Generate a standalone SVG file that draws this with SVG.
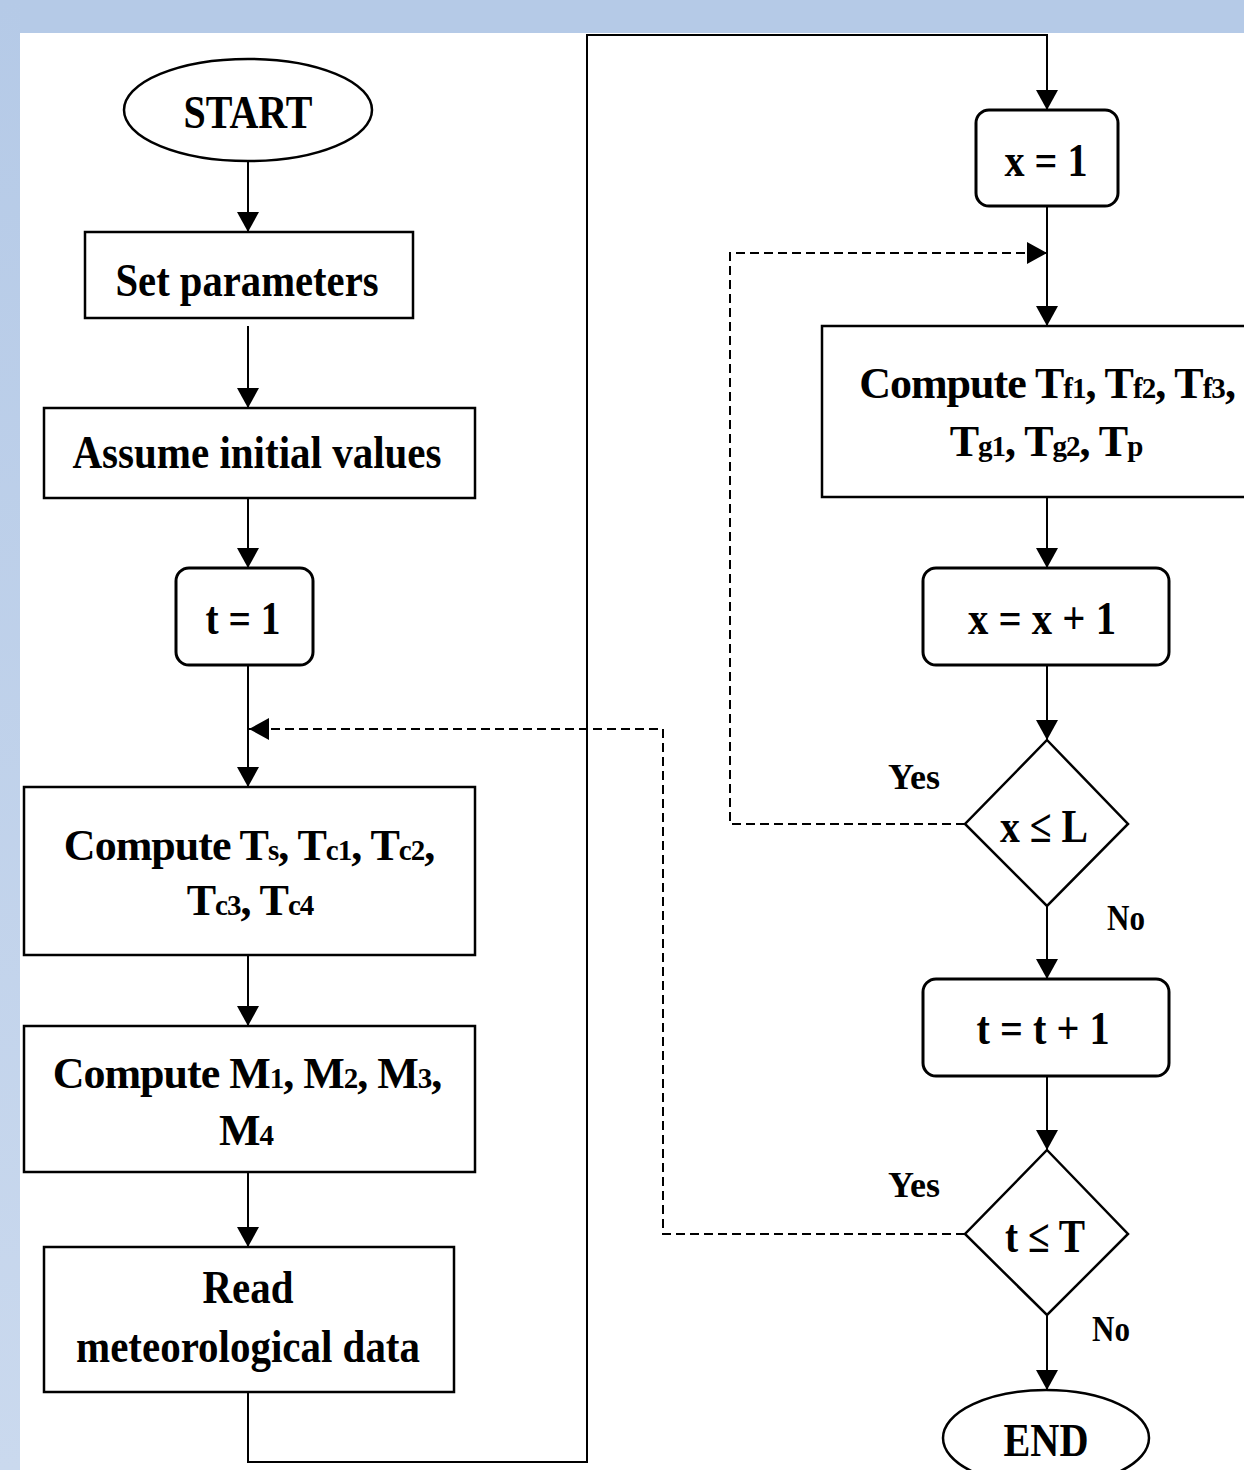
<svg xmlns="http://www.w3.org/2000/svg" width="1244" height="1470" viewBox="0 0 1244 1470">
<defs>
<linearGradient id="side" x1="0" y1="0" x2="0" y2="1">
<stop offset="0" stop-color="#B5CAE7"/>
<stop offset="1" stop-color="#CAD9EE"/>
</linearGradient>
<marker id="ah" viewBox="0 0 20 22" refX="20" refY="11" markerWidth="20" markerHeight="22" markerUnits="userSpaceOnUse" orient="auto">
<path d="M0,0 L20,11 L0,22 Z" fill="#000"/>
</marker>
</defs>
<style>
.box{fill:#fff;stroke:#000;stroke-width:2.5}
.rbox{fill:#fff;stroke:#000;stroke-width:3}
.t{font-family:"Liberation Serif","Times New Roman",serif;font-weight:bold;font-size:46px;fill:#000;text-anchor:middle}
.tc{font-family:"Liberation Serif","Times New Roman",serif;font-weight:bold;font-size:44px;fill:#000;text-anchor:middle;letter-spacing:-1px}
.lbl{font-family:"Liberation Serif","Times New Roman",serif;font-weight:bold;font-size:36px;fill:#000;text-anchor:middle}
.sub{font-size:29px}
.ln{fill:none;stroke:#000;stroke-width:2}
.dash{fill:none;stroke:#000;stroke-width:2;stroke-dasharray:9,5}
</style>
<rect x="0" y="0" width="1244" height="1470" fill="#fff"/>
<rect x="0" y="0" width="1244" height="33" fill="#B5CAE7"/>
<rect x="0" y="0" width="20" height="1470" fill="url(#side)"/>

<g id="connectors">
<line class="ln" x1="248" y1="162" x2="248" y2="232" marker-end="url(#ah)"/>
<line class="ln" x1="248" y1="326" x2="248" y2="408" marker-end="url(#ah)"/>
<line class="ln" x1="248" y1="498" x2="248" y2="568" marker-end="url(#ah)"/>
<line class="ln" x1="248" y1="665" x2="248" y2="787" marker-end="url(#ah)"/>
<line class="ln" x1="248" y1="955" x2="248" y2="1026" marker-end="url(#ah)"/>
<line class="ln" x1="248" y1="1172" x2="248" y2="1247" marker-end="url(#ah)"/>
<polyline class="ln" points="248,1392 248,1462 587,1462 587,35 1047,35 1047,110" marker-end="url(#ah)"/>
<line class="ln" x1="1047" y1="206" x2="1047" y2="326" marker-end="url(#ah)"/>
<line class="ln" x1="1047" y1="497" x2="1047" y2="568" marker-end="url(#ah)"/>
<line class="ln" x1="1047" y1="665" x2="1047" y2="740" marker-end="url(#ah)"/>
<line class="ln" x1="1047" y1="906" x2="1047" y2="979" marker-end="url(#ah)"/>
<line class="ln" x1="1047" y1="1076" x2="1047" y2="1150" marker-end="url(#ah)"/>
<line class="ln" x1="1047" y1="1315" x2="1047" y2="1390" marker-end="url(#ah)"/>
<polyline class="dash" points="965,824 730,824 730,253 1047,253" marker-end="url(#ah)"/>
<polyline class="dash" points="965,1234 663,1234 663,729 249,729" marker-end="url(#ah)"/>
<text class="lbl" x="914" y="789" textLength="52" lengthAdjust="spacingAndGlyphs">Yes</text>
<text class="lbl" x="1126" y="930" textLength="38" lengthAdjust="spacingAndGlyphs">No</text>
<text class="lbl" x="914" y="1197" textLength="52" lengthAdjust="spacingAndGlyphs">Yes</text>
<text class="lbl" x="1111" y="1341" textLength="38" lengthAdjust="spacingAndGlyphs">No</text>
</g>

<g id="start">
<ellipse class="box" cx="248" cy="110" rx="124" ry="51"/>
<text class="t" x="248" y="128" textLength="129" lengthAdjust="spacingAndGlyphs">START</text>
</g>
<g id="set-parameters">
<rect class="box" x="85" y="232" width="328" height="86"/>
<text class="t" x="247" y="296" textLength="263" lengthAdjust="spacingAndGlyphs">Set parameters</text>
</g>
<g id="assume">
<rect class="box" x="44" y="408" width="431" height="90"/>
<text class="t" x="257" y="468" textLength="369" lengthAdjust="spacingAndGlyphs">Assume initial values</text>
</g>
<g id="t1">
<rect class="rbox" x="176" y="568" width="137" height="97" rx="13"/>
<text class="t" x="243" y="634" textLength="75" lengthAdjust="spacingAndGlyphs">t = 1</text>
</g>
<g id="compute-ts">
<rect class="box" x="24" y="787" width="451" height="168"/>
<text class="tc" x="249" y="860">Compute T<tspan class="sub">s</tspan>, T<tspan class="sub">c1</tspan>, T<tspan class="sub">c2</tspan>,</text>
<text class="tc" x="250" y="915">T<tspan class="sub">c3</tspan>, T<tspan class="sub">c4</tspan></text>
</g>
<g id="compute-m">
<rect class="box" x="24" y="1026" width="451" height="146"/>
<text class="tc" x="247" y="1088">Compute M<tspan class="sub">1</tspan>, M<tspan class="sub">2</tspan>, M<tspan class="sub">3</tspan>,</text>
<text class="tc" x="246" y="1145">M<tspan class="sub">4</tspan></text>
</g>
<g id="read">
<rect class="box" x="44" y="1247" width="410" height="145"/>
<text class="t" x="248" y="1303" textLength="91" lengthAdjust="spacingAndGlyphs">Read</text>
<text class="t" x="248" y="1362" textLength="344" lengthAdjust="spacingAndGlyphs">meteorological data</text>
</g>
<g id="x1">
<rect class="rbox" x="976" y="110" width="142" height="96" rx="13"/>
<text class="t" x="1046" y="176" textLength="83" lengthAdjust="spacingAndGlyphs">x = 1</text>
</g>
<g id="compute-tf">
<rect class="box" x="822" y="326" width="430" height="171"/>
<text class="tc" x="1047" y="398">Compute T<tspan class="sub">f1</tspan>, T<tspan class="sub">f2</tspan>, T<tspan class="sub">f3</tspan>,</text>
<text class="tc" x="1046" y="456">T<tspan class="sub">g1</tspan>, T<tspan class="sub">g2</tspan>, T<tspan class="sub">p</tspan></text>
</g>
<g id="x-inc">
<rect class="rbox" x="923" y="568" width="246" height="97" rx="13"/>
<text class="t" x="1042" y="634" textLength="148" lengthAdjust="spacingAndGlyphs">x = x + 1</text>
</g>
<g id="x-le-L">
<polygon class="box" points="1047,740 1128,824 1047,906 965,824"/>
<text class="t" x="1044" y="842" textLength="88" lengthAdjust="spacingAndGlyphs">x ≤ L</text>
</g>
<g id="t-inc">
<rect class="rbox" x="923" y="979" width="246" height="97" rx="13"/>
<text class="t" x="1043" y="1044" textLength="133" lengthAdjust="spacingAndGlyphs">t = t + 1</text>
</g>
<g id="t-le-T">
<polygon class="box" points="1047,1150 1128,1234 1047,1315 965,1234"/>
<text class="t" x="1045" y="1252" textLength="80" lengthAdjust="spacingAndGlyphs">t ≤ T</text>
</g>
<g id="end">
<ellipse class="box" cx="1046" cy="1438" rx="103" ry="48"/>
<text class="t" x="1046" y="1456" textLength="85" lengthAdjust="spacingAndGlyphs">END</text>
</g>
</svg>
